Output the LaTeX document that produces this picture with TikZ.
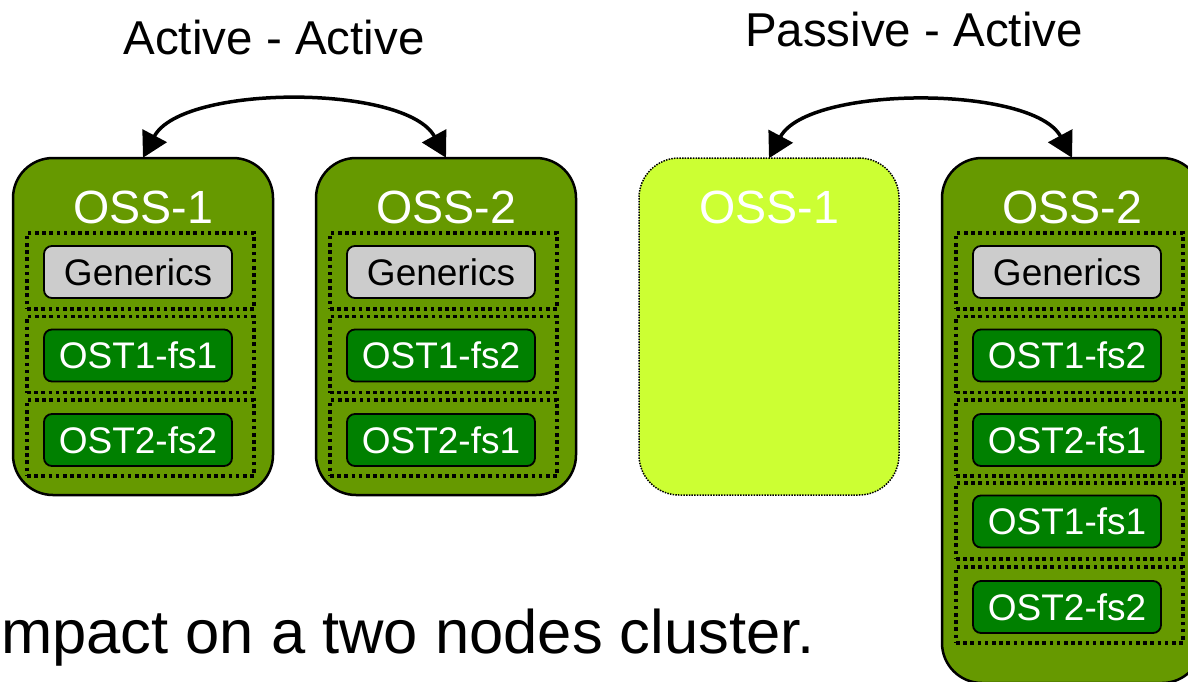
\documentclass[tikz,border=0pt]{standalone}
\usepackage{fontspec}
\setmainfont{Liberation Sans}
\usetikzlibrary{arrows.meta}
\definecolor{olive}{RGB}{102,153,0}
\definecolor{ostgreen}{RGB}{0,128,0}
\definecolor{gengray}{RGB}{204,204,204}
\definecolor{passive}{RGB}{204,255,51}
\tikzset{
  ossbox/.style={draw=black, line width=2.5pt, fill=olive, rounded corners=40pt,
    minimum width=260pt, inner sep=0pt},
  passbox/.style={draw=black, line width=1.5pt, dash pattern=on 1.5pt off 1.2pt,
    fill=passive, rounded corners=40pt, minimum width=260pt, inner sep=0pt},
  osslabel/.style={anchor=base, text=white, inner sep=0pt,
    font=\fontsize{46.6}{50}\selectfont},
  slot/.style={draw=black, line width=3.8pt, dash pattern=on 3.6pt off 3.6pt,
    minimum width=227pt, minimum height=76pt, inner sep=0pt},
  gen/.style={draw=black, line width=1.8pt, fill=gengray, rounded corners=8pt,
    minimum width=188pt, minimum height=52pt, inner sep=0pt, text=black,
    font=\fontsize{37}{40}\selectfont},
  ost/.style={gen, fill=ostgreen, text=white},
  title/.style={anchor=base, inner sep=0pt, font=\fontsize{47.5}{50}\selectfont},
  link/.style={line width=3.5pt,
    arrows={Triangle[length=25pt,width=27pt]-Triangle[length=25pt,width=27pt]}}
}
\begin{document}
\begin{tikzpicture}[x=1pt,y=-1pt]
\clip (0,0) rectangle (1188,681);
\fill[white] (0,0) rectangle (1188,681);

% titles
\node[title] (t1) at (274,54) {Active - Active};
\node[title] (t2) at (914,46) {Passive - Active};

% Active - Active: OSS-1
\node[ossbox, minimum height=337pt] (a1) at (143,326.5) {};
\node[osslabel] (a1l) at (143,223) {OSS-1};
\node[slot] (a1s1) at (140.5,271) {};
\node[slot] (a1s2) at (140.5,354.5) {};
\node[slot] (a1s3) at (140.5,438) {};
\node[gen] (a1g) at (138,272) {Generics};
\node[ost] (a1o1) at (138,355.5) {OST1-fs1};
\node[ost] (a1o2) at (138,440) {OST2-fs2};

% Active - Active: OSS-2
\node[ossbox, minimum height=337pt] (a2) at (446,326.5) {};
\node[osslabel] (a2l) at (446,223) {OSS-2};
\node[slot] (a2s1) at (443.5,271) {};
\node[slot] (a2s2) at (443.5,354.5) {};
\node[slot] (a2s3) at (443.5,438) {};
\node[gen] (a2g) at (441,272) {Generics};
\node[ost] (a2o1) at (441,355.5) {OST1-fs2};
\node[ost] (a2o2) at (441,440) {OST2-fs1};

% Passive - Active: OSS-1 (passive)
\node[passbox, minimum height=337pt] (p1) at (769,326.5) {};
\node[osslabel] (p1l) at (769,223) {OSS-1};

% Passive - Active: OSS-2
\node[ossbox, minimum height=525pt] (p2) at (1072,420.5) {};
\node[osslabel] (p2l) at (1072,223) {OSS-2};
\node[slot] (p2s1) at (1069.5,271) {};
\node[slot] (p2s2) at (1069.5,354.5) {};
\node[slot] (p2s3) at (1069.5,438) {};
\node[slot] (p2s4) at (1069.5,521) {};
\node[slot] (p2s5) at (1069.5,605) {};
\node[gen] (p2g) at (1067,272) {Generics};
\node[ost] (p2o1) at (1067,355.5) {OST1-fs2};
\node[ost] (p2o2) at (1067,440) {OST2-fs1};
\node[ost] (p2o3) at (1067,521.5) {OST1-fs1};
\node[ost] (p2o4) at (1067,607) {OST2-fs2};

% arrows
\draw[link] ([yshift=-1pt]a1.north) .. controls (182,84) and (406,84) .. ([yshift=-1pt]a2.north);
\draw[link] ([yshift=-1pt]p1.north) .. controls (808,85) and (1033,85) .. ([yshift=-1pt]p2.north);

% bottom text
\node[anchor=base west, inner sep=0pt, font=\fontsize{61.5}{66}\selectfont] (bt) at (1,653) {mpact on a two nodes cluster.};
\end{tikzpicture}
\end{document}
